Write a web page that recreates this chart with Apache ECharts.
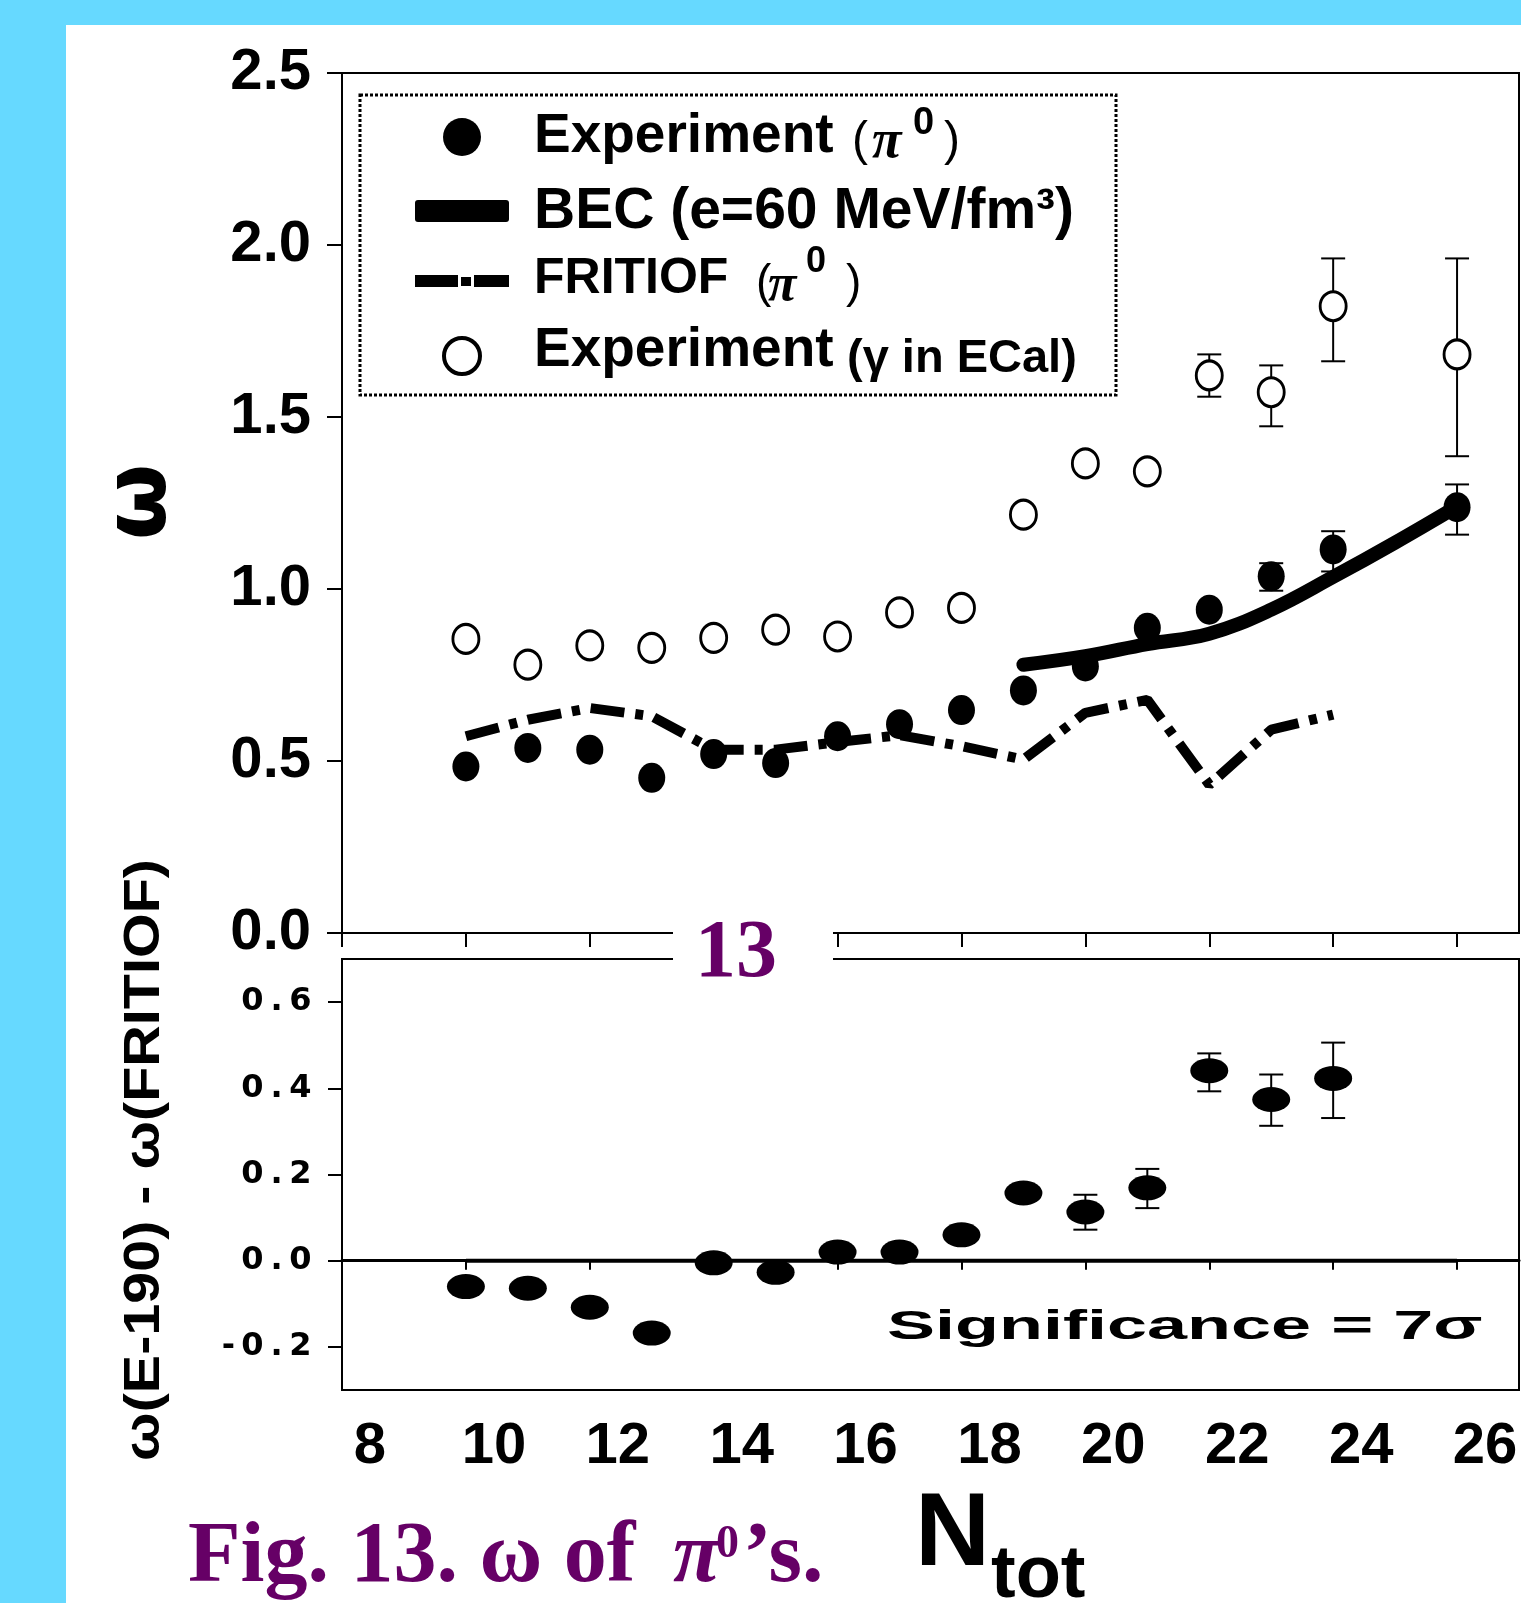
<!DOCTYPE html>
<html>
<head>
<meta charset="UTF-8">
<title>Fig. 13 omega of pi0</title>
<script src="https://cdn.jsdelivr.net/npm/echarts@6/dist/echarts.min.js"></script>
<style>
  html, body { margin: 0; padding: 0; overflow: hidden; background: #66d9ff; }
  #panel { position: absolute; left: 66px; top: 25px; width: 1455px; height: 1578px; background: #fff; }
  #main { position: absolute; left: 0; top: 0; width: 1521px; height: 1603px; }
</style>
</head>
<body>
<div id="panel"></div>
<div id="main"></div>
<script>
// N_tot values
var nTot = [10, 11, 12, 13, 14, 15, 16, 17, 18, 19, 20, 21, 22, 23, 24, 26];
// Experiment (pi0), filled dots
var piExp = [0.484, 0.538, 0.533, 0.451, 0.52, 0.494, 0.572, 0.607, 0.648, 0.705, 0.775, 0.887, 0.94, 1.037, 1.115, 1.238];
// Experiment (gamma in ECal), open dots
var gammaExp = [0.855, 0.78, 0.836, 0.829, 0.858, 0.882, 0.862, 0.932, 0.945, 1.216, 1.365, 1.342, 1.621, 1.572, 1.822, 1.682];
// error bars (low / high ends)
var piErrX = [23, 24, 26];
var piErrLo = [0.995, 1.051, 1.158];
var piErrHi = [1.075, 1.168, 1.304];
var gammaErrX = [22, 23, 24, 26];
var gammaErrLo = [1.559, 1.473, 1.662, 1.386];
var gammaErrHi = [1.682, 1.65, 1.961, 1.961];
// BEC curve
var becX = [19, 20, 21, 22, 23, 24, 25, 26];
var becY = [0.78, 0.805, 0.84, 0.87, 0.94, 1.035, 1.135, 1.24];
// FRITIOF curve
var fritX = [10, 11, 12, 13, 14, 15, 16, 17, 18, 19, 20, 21, 22, 23, 24];
var fritY = [0.572, 0.62, 0.654, 0.63, 0.533, 0.533, 0.555, 0.575, 0.543, 0.504, 0.64, 0.678, 0.431, 0.591, 0.635];
// lower panel: omega(E-190) - omega(FRITIOF)
var diffX = [10, 11, 12, 13, 14, 15, 16, 17, 18, 19, 20, 21, 22, 23, 24];
var diffY = [-0.06, -0.064, -0.108, -0.168, -0.005, -0.027, 0.02, 0.02, 0.06, 0.157, 0.113, 0.169, 0.441, 0.374, 0.423];
var diffErrX = [20, 21, 22, 23, 24];
var diffErrLo = [0.072, 0.122, 0.393, 0.313, 0.331];
var diffErrHi = [0.153, 0.213, 0.481, 0.432, 0.506];
var zeroX = [10, 26];
var zeroY = [0, 0];
// ticks
var xTicks = [8, 10, 12, 14, 16, 18, 20, 22, 24, 26];
var diffTicks = [-0.2, 0, 0.2, 0.4, 0.6];

function pairs(xs, ys) { return xs.map(function (x, i) { return [x, ys[i]]; }); }
function triples(xs, lo, hi) { return xs.map(function (x, i) { return [x, lo[i], hi[i]]; }); }

function errorBar(params, api) {
  var top = api.coord([api.value(0), api.value(2)]);
  var bot = api.coord([api.value(0), api.value(1)]);
  var hw = 12, st = { stroke: '#000', lineWidth: 2 };
  return {
    type: 'group',
    children: [
      { type: 'line', shape: { x1: top[0], y1: top[1], x2: bot[0], y2: bot[1] }, style: st },
      { type: 'line', shape: { x1: top[0] - hw, y1: top[1], x2: top[0] + hw, y2: top[1] }, style: st },
      { type: 'line', shape: { x1: bot[0] - hw, y1: bot[1], x2: bot[0] + hw, y2: bot[1] }, style: st }
    ]
  };
}

function txt(x, y, s, font, extra) {
  var el = { type: 'text', x: x, y: y, z: 100,
    style: { text: s, font: font, fill: '#000', align: 'left', verticalAlign: 'middle' } };
  if (extra) {
    for (var k in extra) {
      if (k === 'style') { for (var j in extra.style) el.style[j] = extra.style[j]; }
      else el[k] = extra[k];
    }
  }
  return el;
}

var SANS = '"Liberation Sans"';
var SERIF = '"Liberation Serif"';
var PURPLE = '#660066';

var decor = [
  // legend box and keys
  { type: 'rect', z: 100, shape: { x: 360, y: 95, width: 756, height: 300 },
    style: { fill: 'none', stroke: '#000', lineWidth: 3, lineDash: [3, 2] } },
  { type: 'circle', z: 100, shape: { cx: 462, cy: 137, r: 19 }, style: { fill: '#000' } },
  { type: 'rect', z: 100, shape: { x: 415, y: 200, width: 94, height: 22, r: 3 }, style: { fill: '#000' } },
  { type: 'rect', z: 100, shape: { x: 415, y: 275, width: 43, height: 12 }, style: { fill: '#000' } },
  { type: 'rect', z: 100, shape: { x: 461, y: 277, width: 10, height: 9 }, style: { fill: '#000' } },
  { type: 'rect', z: 100, shape: { x: 474, y: 275, width: 35, height: 12 }, style: { fill: '#000' } },
  { type: 'circle', z: 100, shape: { cx: 462, cy: 356, r: 18 }, style: { fill: '#fff', stroke: '#000', lineWidth: 4 } },

  txt(534, 137, 'Experiment', 'bold 55px ' + SANS),
  txt(852, 142, '(', '48px ' + SANS),
  txt(872, 143, 'π', 'italic bold 54px ' + SERIF),
  txt(913, 124, '0', 'bold 38px ' + SANS),
  txt(944, 142, ')', '48px ' + SANS),

  txt(534, 212, 'BEC (e=60 MeV/fm³)', 'bold 57px ' + SANS),

  txt(534, 279, 'FRITIOF', 'bold 50px ' + SANS),
  txt(756, 284, '(', '46px ' + SANS),
  txt(768, 287, 'π', 'italic bold 52px ' + SERIF),
  txt(806, 262, '0', 'bold 36px ' + SANS),
  txt(846, 284, ')', '46px ' + SANS),

  txt(534, 351, 'Experiment', 'bold 55px ' + SANS),
  txt(847, 359, '(γ in ECal)', 'bold 47px ' + SANS),

  // axis titles
  txt(142, 502, 'ω', 'bold 88px "DejaVu Sans"', { rotation: Math.PI / 2, style: { align: 'center' } }),
  txt(145, 1160, 'ω(E-190) - ω(FRITIOF)', 'bold 50px ' + SANS,
      { rotation: Math.PI / 2, scaleX: 1.15, style: { align: 'center' } }),

  // "13" page number over the gap
  { type: 'rect', z: 99, shape: { x: 673, y: 915, width: 160, height: 65 }, style: { fill: '#fff' } },
  txt(736, 955, '13', 'bold 82px ' + SERIF, { style: { align: 'center', fill: PURPLE } }),

  // significance note
  txt(887, 1328, 'Significance = 7σ', 'bold 40px ' + SANS, { scaleX: 1.8 }),

  // x-axis title
  txt(915, 1536, 'N', 'bold 104px ' + SANS),
  txt(991, 1577, 'tot', 'bold 74px ' + SANS),

  // caption
  txt(188, 1559, 'Fig. 13. ω of', 'bold 86px ' + SERIF, { style: { fill: PURPLE } }),
  txt(673, 1559, 'π', 'italic bold 86px ' + SERIF, { style: { fill: PURPLE } }),
  txt(716, 1545, '0', 'bold 46px ' + SERIF, { style: { fill: PURPLE } }),
  txt(743, 1559, '’s.', 'bold 86px ' + SERIF, { style: { fill: PURPLE } })
];

var axisLineStyle = { color: '#000', width: 2 };

var myChart = echarts.init(document.getElementById('main'));
var option = {
  animation: false,
  backgroundColor: 'transparent',
  grid: [
    { left: 342, top: 73, right: 2, bottom: 670, show: true, borderColor: '#000', borderWidth: 2 },
    { left: 342, top: 959, right: 2, bottom: 213, show: true, borderColor: '#000', borderWidth: 2 }
  ],
  xAxis: [
    { gridIndex: 0, type: 'value', min: 8, max: 27,
      axisLine: { lineStyle: axisLineStyle },
      axisTick: { customValues: xTicks, length: 14, lineStyle: axisLineStyle },
      axisLabel: { show: false }, splitLine: { show: false } },
    { gridIndex: 1, type: 'value', min: 8, max: 27,
      axisLine: { lineStyle: { color: '#000', width: 3 } },
      axisTick: { customValues: xTicks, length: 9, lineStyle: axisLineStyle },
      axisLabel: { customValues: xTicks, color: '#000', fontFamily: 'Liberation Sans', fontWeight: 'bold',
        fontSize: 58, margin: 28, padding: [0, 0, 0, 56] },
      splitLine: { show: false } }
  ],
  yAxis: [
    { gridIndex: 0, type: 'value', min: 0, max: 2.5, interval: 0.5,
      axisLine: { show: true, lineStyle: axisLineStyle },
      axisTick: { show: true, length: 15, lineStyle: axisLineStyle },
      axisLabel: { color: '#000', fontFamily: 'Liberation Sans', fontWeight: 'bold', fontSize: 58, margin: 31,
        formatter: function (v) { return v.toFixed(1); } },
      splitLine: { show: false } },
    { gridIndex: 1, type: 'value', min: -0.3, max: 0.7,
      axisLine: { show: true, lineStyle: axisLineStyle },
      axisTick: { show: true, customValues: diffTicks, length: 14, lineStyle: axisLineStyle },
      axisLabel: { customValues: diffTicks, margin: 27,
        formatter: function (v) {
          return v.toFixed(1).split('').map(function (c) {
            return '{' + (c === '.' || c === '-' ? 'd' : 'c') + '|' + c + '}';
          }).join('');
        },
        rich: {
          c: { width: 29, align: 'center', fontSize: 32, fontWeight: 'bold', fontFamily: 'DejaVu Sans', color: '#000' },
          d: { width: 19, align: 'center', fontSize: 32, fontWeight: 'bold', fontFamily: 'DejaVu Sans', color: '#000' }
        } },
      splitLine: { show: false } }
  ],
  graphic: decor,
  series: [
    { name: 'FRITIOF (π0)', type: 'line', xAxisIndex: 0, yAxisIndex: 0, silent: true,
      data: pairs(fritX, fritY), symbol: 'none', z: 2,
      lineStyle: { color: '#000', width: 10, type: [34, 11, 8, 11] } },
    { name: 'BEC (e=60 MeV/fm3)', type: 'line', xAxisIndex: 0, yAxisIndex: 0, silent: true,
      data: pairs(becX, becY), symbol: 'none', smooth: 0.4, z: 2,
      lineStyle: { color: '#000', width: 14, cap: 'round' } },
    { name: 'gamma err', type: 'custom', xAxisIndex: 0, yAxisIndex: 0, silent: true, z: 3,
      data: triples(gammaErrX, gammaErrLo, gammaErrHi), encode: { x: 0, y: [1, 2] }, renderItem: errorBar },
    { name: 'Experiment (γ in ECal)', type: 'scatter', xAxisIndex: 0, yAxisIndex: 0, silent: true, z: 4,
      data: pairs(nTot, gammaExp), symbolSize: [26, 29],
      itemStyle: { color: '#fff', borderColor: '#000', borderWidth: 3, opacity: 1 } },
    { name: 'pi err', type: 'custom', xAxisIndex: 0, yAxisIndex: 0, silent: true, z: 3,
      data: triples(piErrX, piErrLo, piErrHi), encode: { x: 0, y: [1, 2] }, renderItem: errorBar },
    { name: 'Experiment (π0)', type: 'scatter', xAxisIndex: 0, yAxisIndex: 0, silent: true, z: 5,
      data: pairs(nTot, piExp), symbolSize: [27, 30], itemStyle: { color: '#000', opacity: 1 } },
    { name: 'zero', type: 'line', xAxisIndex: 1, yAxisIndex: 1, silent: true, z: 2,
      data: pairs(zeroX, zeroY), symbol: 'none', lineStyle: { color: '#000', width: 4 } },
    { name: 'diff err', type: 'custom', xAxisIndex: 1, yAxisIndex: 1, silent: true, z: 3,
      data: triples(diffErrX, diffErrLo, diffErrHi), encode: { x: 0, y: [1, 2] }, renderItem: errorBar },
    { name: 'ω(E-190) - ω(FRITIOF)', type: 'scatter', xAxisIndex: 1, yAxisIndex: 1, silent: true, z: 5,
      data: pairs(diffX, diffY), symbolSize: [38, 25], itemStyle: { color: '#000', opacity: 1 } }
  ]
};
myChart.setOption(option);
</script>
</body>
</html>
